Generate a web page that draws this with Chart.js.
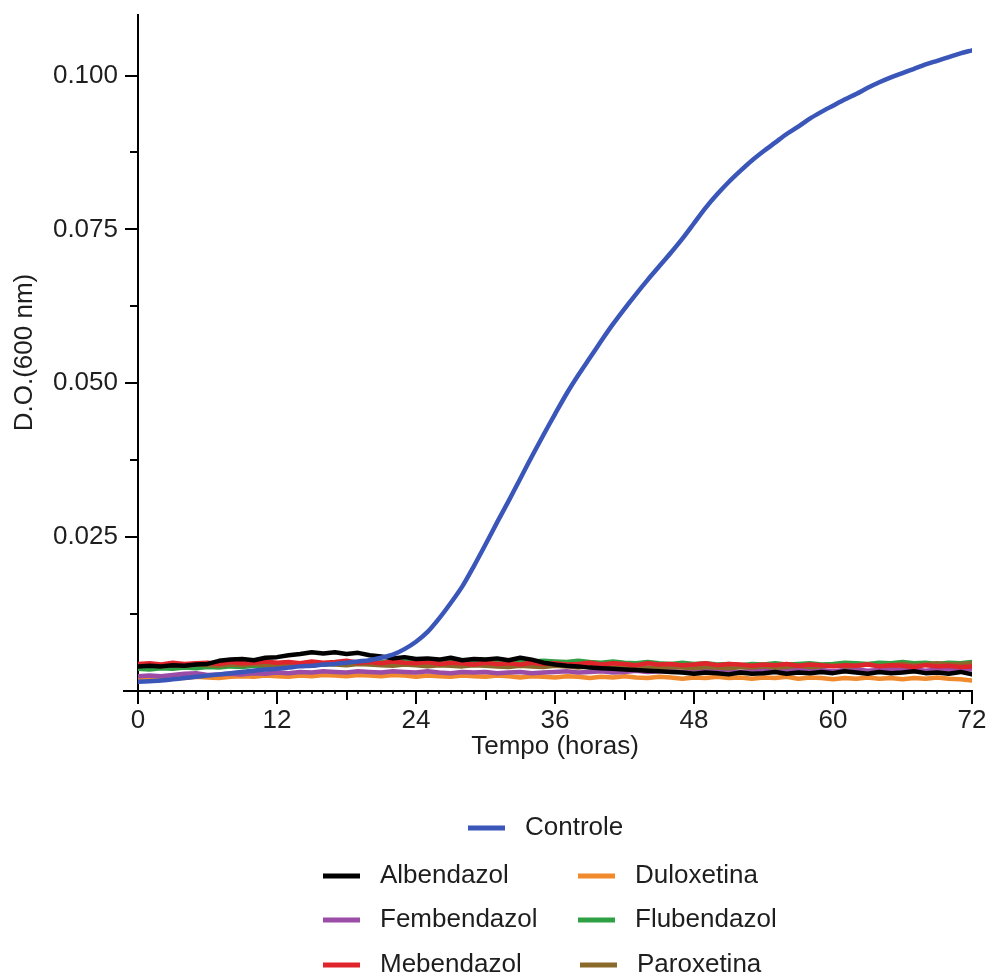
<!DOCTYPE html>
<html>
<head>
<meta charset="utf-8">
<script src="https://cdn.jsdelivr.net/npm/chart.js@4.4.1/dist/chart.umd.min.js"></script>
<style>
  html, body { margin: 0; padding: 0; background: #ffffff; }
  #wrap { width: 992px; height: 980px; }
</style>
</head>
<body>
<div id="wrap"><canvas id="growth" width="992" height="980"></canvas></div>
<script>
// Time points (hours)
const HOURS = [0,1,2,3,4,5,6,7,8,9,10,11,12,13,14,15,16,17,18,19,20,21,22,23,24,25,26,27,28,29,30,31,32,33,34,35,36,37,38,39,40,41,42,43,44,45,46,47,48,49,50,51,52,53,54,55,56,57,58,59,60,61,62,63,64,65,66,67,68,69,70,71,72];

// Optical density (600 nm) per treatment
const controle = [0.0015,0.0016,0.0017,0.0019,0.0021,0.0023,0.0025,0.0027,0.0029,0.0031,
  0.0033,0.0035,0.0036,0.0038,0.0040,0.0041,0.0043,0.0044,0.0046,0.0048,
  0.0050,0.0054,0.0059,0.0068,0.0080,0.0096,0.0118,0.0143,0.0170,0.0203,
  0.0238,0.0274,0.0309,0.0345,0.0381,0.0416,0.0450,0.0483,0.0513,0.0541,
  0.0569,0.0596,0.0621,0.0645,0.0668,0.0690,0.0712,0.0735,0.0760,0.0785,
  0.0807,0.0827,0.0845,0.0862,0.0877,0.0891,0.0905,0.0917,0.0930,0.0941,
  0.0951,0.0961,0.0970,0.0980,0.0989,0.0997,0.1004,0.1011,0.1018,0.1024,
  0.1030,0.1036,0.1041];

const albendazol = [0.0040,0.0041,0.0040,0.0042,0.0041,0.0043,0.0044,0.0049,0.0051,0.0052,
  0.0050,0.0054,0.0055,0.0058,0.0060,0.0063,0.0061,0.0063,0.0060,0.0062,
  0.0058,0.0056,0.0053,0.0055,0.0052,0.0053,0.0051,0.0054,0.0050,0.0052,
  0.0051,0.0053,0.0050,0.0054,0.0051,0.0046,0.0043,0.0041,0.0040,0.0038,
  0.0037,0.0036,0.0035,0.0034,0.0033,0.0032,0.0031,0.0030,0.0028,0.0030,
  0.0029,0.0027,0.0030,0.0028,0.0029,0.0031,0.0028,0.0030,0.0029,0.0031,
  0.0029,0.0032,0.0030,0.0028,0.0031,0.0029,0.0030,0.0032,0.0029,0.0030,
  0.0028,0.0031,0.0027];

const fembendazol = [0.0024,0.0025,0.0024,0.0026,0.0028,0.0029,0.0026,0.0027,0.0028,0.0027,
  0.0029,0.0028,0.0030,0.0029,0.0031,0.0030,0.0032,0.0031,0.0030,0.0032,
  0.0031,0.0030,0.0032,0.0031,0.0030,0.0032,0.0030,0.0029,0.0031,0.0030,
  0.0031,0.0029,0.0030,0.0031,0.0029,0.0030,0.0031,0.0032,0.0030,0.0031,
  0.0032,0.0030,0.0031,0.0033,0.0031,0.0032,0.0033,0.0031,0.0032,0.0034,
  0.0032,0.0033,0.0031,0.0033,0.0034,0.0032,0.0033,0.0035,0.0033,0.0034,
  0.0032,0.0034,0.0035,0.0033,0.0034,0.0036,0.0034,0.0035,0.0033,0.0035,
  0.0034,0.0036,0.0035];

const mebendazol = [0.0044,0.0045,0.0043,0.0046,0.0044,0.0045,0.0046,0.0044,0.0047,0.0045,
  0.0046,0.0048,0.0046,0.0047,0.0045,0.0048,0.0046,0.0047,0.0049,0.0046,
  0.0047,0.0045,0.0048,0.0046,0.0045,0.0047,0.0044,0.0046,0.0045,0.0043,
  0.0046,0.0044,0.0045,0.0043,0.0046,0.0044,0.0045,0.0043,0.0044,0.0046,
  0.0043,0.0045,0.0044,0.0042,0.0045,0.0043,0.0044,0.0042,0.0043,0.0045,
  0.0042,0.0044,0.0043,0.0041,0.0043,0.0042,0.0044,0.0041,0.0043,0.0042,
  0.0040,0.0042,0.0041,0.0043,0.0040,0.0042,0.0041,0.0039,0.0042,0.0040,
  0.0041,0.0039,0.0040];

const duloxetina = [0.0020,0.0021,0.0020,0.0022,0.0021,0.0023,0.0022,0.0021,0.0023,0.0024,
  0.0023,0.0025,0.0024,0.0023,0.0025,0.0024,0.0026,0.0025,0.0024,0.0026,
  0.0025,0.0024,0.0026,0.0025,0.0023,0.0025,0.0024,0.0023,0.0025,0.0024,
  0.0023,0.0025,0.0024,0.0022,0.0024,0.0023,0.0022,0.0024,0.0023,0.0021,
  0.0023,0.0022,0.0024,0.0022,0.0021,0.0023,0.0022,0.0020,0.0022,0.0021,
  0.0023,0.0021,0.0022,0.0020,0.0022,0.0021,0.0023,0.0020,0.0022,0.0021,
  0.0019,0.0021,0.0020,0.0022,0.0020,0.0021,0.0019,0.0021,0.0020,0.0022,
  0.0020,0.0019,0.0017];

const flubendazol = [0.0036,0.0035,0.0037,0.0036,0.0038,0.0037,0.0039,0.0038,0.0040,0.0039,
  0.0041,0.0040,0.0042,0.0041,0.0043,0.0044,0.0043,0.0045,0.0044,0.0046,
  0.0045,0.0047,0.0046,0.0048,0.0047,0.0046,0.0048,0.0047,0.0049,0.0048,
  0.0047,0.0049,0.0048,0.0050,0.0048,0.0049,0.0048,0.0047,0.0049,0.0047,
  0.0046,0.0048,0.0046,0.0045,0.0047,0.0045,0.0044,0.0046,0.0044,0.0045,
  0.0043,0.0044,0.0042,0.0044,0.0043,0.0045,0.0043,0.0044,0.0045,0.0043,
  0.0044,0.0046,0.0045,0.0044,0.0046,0.0045,0.0047,0.0045,0.0046,0.0044,
  0.0046,0.0045,0.0047];

const paroxetina = [0.0041,0.0042,0.0040,0.0042,0.0041,0.0043,0.0042,0.0041,0.0043,0.0042,
  0.0044,0.0042,0.0043,0.0041,0.0043,0.0042,0.0044,0.0043,0.0042,0.0044,
  0.0043,0.0042,0.0041,0.0043,0.0042,0.0040,0.0042,0.0041,0.0040,0.0042,
  0.0041,0.0040,0.0039,0.0041,0.0040,0.0039,0.0041,0.0040,0.0038,0.0040,
  0.0039,0.0038,0.0040,0.0039,0.0038,0.0037,0.0039,0.0038,0.0037,0.0039,
  0.0038,0.0037,0.0039,0.0038,0.0040,0.0038,0.0039,0.0041,0.0039,0.0040,
  0.0042,0.0040,0.0041,0.0043,0.0041,0.0042,0.0044,0.0042,0.0043,0.0045,
  0.0043,0.0044,0.0045];

// Axis ticks
const X_TICKS = [0, 12, 24, 36, 48, 60, 72];
const Y_TICKS = [0.025, 0.050, 0.075, 0.100];

const FONT = '"Liberation Sans", Arial, sans-serif';
const INK = '#1e1e1e';

function series(values) {
  return values.map((v, i) => ({ x: HOURS[i], y: v }));
}

const datasets = [
  { label: 'Controle',    data: series(controle),    borderColor: '#3a56b8', borderWidth: 4.5, order: 0, tension: 0.3 },
  { label: 'Albendazol',  data: series(albendazol),  borderColor: '#000000', borderWidth: 4.5, order: 1 },
  { label: 'Duloxetina',  data: series(duloxetina),  borderColor: '#f08a2c', borderWidth: 4.5, order: 6 },
  { label: 'Fembendazol', data: series(fembendazol), borderColor: '#9a4ca6', borderWidth: 4.5, order: 5 },
  { label: 'Flubendazol', data: series(flubendazol), borderColor: '#2fa043', borderWidth: 4.5, order: 4 },
  { label: 'Mebendazol',  data: series(mebendazol),  borderColor: '#e0242b', borderWidth: 4.5, order: 2 },
  { label: 'Paroxetina',  data: series(paroxetina),  borderColor: '#8a6a2a', borderWidth: 4.5, order: 3 }
];

// Legend slots: dataset label -> [line start x, row centre y]
const legendSlots = {
  'Controle':    [468, 828],
  'Albendazol':  [323, 876],
  'Duloxetina':  [578, 876],
  'Fembendazol': [323, 920],
  'Flubendazol': [578, 920],
  'Mebendazol':  [323, 965],
  'Paroxetina':  [580, 965]
};

const axesPlugin = {
  id: 'prismAxes',
  beforeDatasetsDraw(chart) {
    const { ctx, chartArea, scales } = chart;
    const xs = scales.x, ys = scales.y;
    const y0 = ys.getPixelForValue(0);
    const x0 = xs.getPixelForValue(0);
    ctx.save();
    ctx.strokeStyle = '#000';
    ctx.lineWidth = 2;
    ctx.lineCap = 'butt';
    ctx.beginPath();
    // y axis
    ctx.moveTo(x0, chartArea.top);
    ctx.lineTo(x0, y0 + 1);
    // x axis (extends slightly past the y axis)
    ctx.moveTo(x0 - 15, y0);
    ctx.lineTo(xs.getPixelForValue(72) + 1, y0);
    ctx.stroke();

    // x ticks: long every 12 h, medium every 6 h, short every hour
    for (let h = 0; h <= 72; h++) {
      const px = Math.round(xs.getPixelForValue(h));
      let len = 3, w = 1.5;
      if (h % 12 === 0) { len = 13; w = 2; }
      else if (h % 6 === 0) { len = 9; w = 2; }
      ctx.lineWidth = w;
      ctx.beginPath();
      ctx.moveTo(px, y0);
      ctx.lineTo(px, y0 + len);
      ctx.stroke();
    }
    // y ticks: long at labelled values, short halfway between
    ctx.lineWidth = 2;
    for (let k = 1; k <= 8; k++) {
      const v = k * 0.0125;
      const py = Math.round(ys.getPixelForValue(v));
      const len = (k % 2 === 0) ? 13 : 8;
      ctx.beginPath();
      ctx.moveTo(x0 - len, py);
      ctx.lineTo(x0, py);
      ctx.stroke();
    }
    ctx.restore();
  },
  afterDraw(chart) {
    const { ctx, chartArea } = chart;
    ctx.save();
    ctx.fillStyle = INK;
    ctx.font = '26px ' + FONT;
    // axis titles
    ctx.textAlign = 'center';
    ctx.textBaseline = 'middle';
    ctx.fillText('Tempo (horas)', (chartArea.left + chartArea.right) / 2, 747);
    ctx.save();
    ctx.translate(25, (chartArea.top + chartArea.bottom) / 2);
    ctx.rotate(-Math.PI / 2);
    ctx.fillText('D.O.(600 nm)', 0, 0);
    ctx.restore();

    // legend
    ctx.textAlign = 'left';
    chart.data.datasets.forEach(ds => {
      const slot = legendSlots[ds.label];
      if (!slot) return;
      const [lx, ly] = slot;
      ctx.strokeStyle = ds.borderColor;
      ctx.lineWidth = 5;
      ctx.beginPath();
      ctx.moveTo(lx, ly);
      ctx.lineTo(lx + 37, ly);
      ctx.stroke();
      ctx.fillStyle = INK;
      ctx.fillText(ds.label, lx + 57, ly);
    });
    ctx.restore();
  }
};

new Chart(document.getElementById('growth'), {
  type: 'line',
  data: { datasets },
  options: {
    responsive: false,
    animation: false,
    events: [],
    layout: { padding: { left: 0, right: 20, top: 14, bottom: 200 } },
    elements: {
      point: { radius: 0 },
      line: { tension: 0, borderJoinStyle: 'round', borderCapStyle: 'round' }
    },
    plugins: { legend: { display: false }, tooltip: { enabled: false } },
    scales: {
      x: {
        type: 'linear',
        min: 0,
        max: 72,
        grid: { display: false, drawTicks: false },
        border: { display: false },
        afterFit(scale) {
          scale.height = 89;
          scale.paddingLeft = 0;
          scale.paddingRight = 0;
        },
        afterBuildTicks(scale) { scale.ticks = X_TICKS.map(v => ({ value: v })); },
        ticks: {
          padding: 14,
          color: INK,
          font: { family: FONT, size: 26 },
          maxRotation: 0,
          autoSkip: false,
          callback: v => String(v)
        }
      },
      y: {
        type: 'linear',
        min: 0,
        max: 0.11,
        grid: { display: false, drawTicks: false },
        border: { display: false },
        afterFit(scale) {
          scale.width = 138;
          scale.paddingTop = 0;
          scale.paddingBottom = 0;
        },
        afterBuildTicks(scale) { scale.ticks = Y_TICKS.map(v => ({ value: v })); },
        ticks: {
          padding: 20,
          color: INK,
          font: { family: FONT, size: 26 },
          callback: v => v.toFixed(3)
        }
      }
    }
  },
  plugins: [axesPlugin]
});
</script>
</body>
</html>
